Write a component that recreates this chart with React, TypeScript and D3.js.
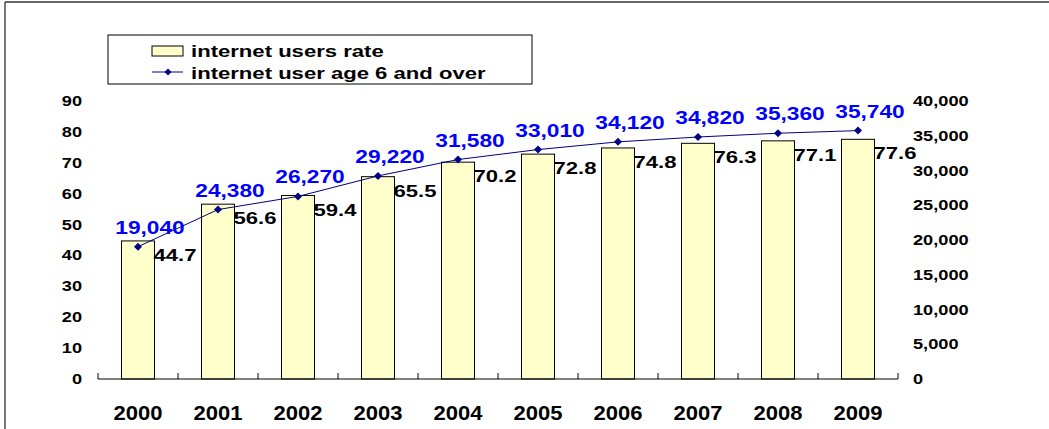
import React from "react";
import { scaleBand, scaleLinear, line, format } from "d3";

const years = ["2000", "2001", "2002", "2003", "2004", "2005", "2006", "2007", "2008", "2009"];
const usersRate = [44.7, 56.6, 59.4, 65.5, 70.2, 72.8, 74.8, 76.3, 77.1, 77.6];
const usersAge6 = [19040, 24380, 26270, 29220, 31580, 33010, 34120, 34820, 35360, 35740];
const leftTicks = [0, 10, 20, 30, 40, 50, 60, 70, 80, 90];
const rightTicks = [0, 5000, 10000, 15000, 20000, 25000, 30000, 35000, 40000];

const width = 1049;
const height = 429;
const font = "'Liberation Sans', Arial, sans-serif";
const stretch = 1.3;

const margin = { top: 101, right: 151, bottom: 50, left: 98 };

const App = () => {
  const innerBottom = height - margin.bottom;

  const x = scaleBand()
    .domain(years)
    .range([margin.left, width - margin.right])
    .padding(0);

  const yLeft = scaleLinear().domain([0, 90]).range([innerBottom, margin.top]);
  const yRight = scaleLinear().domain([0, 40000]).range([innerBottom, margin.top]);

  const barW = x.bandwidth() * 0.4125;
  const cx = (d) => x(d) + x.bandwidth() / 2;
  const comma = format(",");

  const pts = years.map((d, i) => [cx(d), yRight(usersAge6[i])]);
  const path = line()(pts);

  const diamond = (px, py, r = 4) =>
    `M${px},${py - r}L${px + r},${py}L${px},${py + r}L${px - r},${py}Z`;

  // stretched bold text, like the source image
  const T = ({ x: tx, y: ty, size, anchor = "start", fill = "#000", sx = stretch, children }) => (
    <text
      transform={`translate(${tx},${ty}) scale(${sx},1)`}
      textAnchor={anchor}
      fontSize={size}
      fontWeight="bold"
      fontFamily={font}
      fill={fill}
    >
      {children}
    </text>
  );

  const ticksX = [...years.map((d) => x(d)), x(years[years.length - 1]) + x.bandwidth()];

  return (
    <svg
      width={width}
      height={height}
      style={{ position: "absolute", left: 0, top: 0, display: "block", background: "#fff" }}
    >
      {/* frame */}
      <line x1={5} x2={width} y1={2} y2={2} stroke="#333" strokeWidth={1.3} />
      <line x1={5} x2={5} y1={2} y2={height} stroke="#333" strokeWidth={1.3} />

      {/* legend */}
      <rect x={108} y={35} width={424} height={49} fill="#fff" stroke="#000" />
      <rect x={152} y={46} width={31} height={10} fill="#FFFFCC" stroke="#000" />
      <T x={191} y={57} size={17}>internet users rate</T>
      <line x1={152} x2={183} y1={72} y2={72} stroke="#000080" />
      <path d={diamond(168, 72, 3.5)} fill="#000080" />
      <T x={191} y={79} size={17}>internet user age 6 and over</T>

      {/* bars */}
      {years.map((d, i) => (
        <rect
          key={d}
          x={cx(d) - barW / 2}
          y={yLeft(usersRate[i])}
          width={barW}
          height={innerBottom - yLeft(usersRate[i])}
          fill="#FFFFCC"
          stroke="#000"
          strokeWidth={1}
        />
      ))}

      {/* x axis */}
      <line x1={margin.left} x2={width - margin.right} y1={innerBottom} y2={innerBottom} stroke="#000" strokeWidth={1.2} />
      {ticksX.map((t, i) => (
        <line key={i} x1={t} x2={t} y1={innerBottom} y2={innerBottom - 6} stroke="#000" />
      ))}
      {years.map((d) => (
        <T key={d} x={cx(d)} y={420} size={20} sx={1.1} anchor="middle">
          {d}
        </T>
      ))}

      {/* left axis labels */}
      {leftTicks.map((t) => (
        <T key={t} x={82} y={yLeft(t) + 5} size={14} anchor="end">
          {t}
        </T>
      ))}

      {/* right axis labels */}
      {rightTicks.map((t) => (
        <T key={t} x={913} y={yRight(t) + 5} size={14}>
          {comma(t)}
        </T>
      ))}

      {/* rate labels */}
      {years.map((d, i) => (
        <T key={d} x={cx(d) + barW / 2 - 1} y={yLeft(usersRate[i]) + 20} size={17}>
          {usersRate[i].toFixed(1)}
        </T>
      ))}

      {/* line */}
      <path d={path} fill="none" stroke="#000080" strokeWidth={1} />
      {pts.map(([px, py], i) => (
        <path key={i} d={diamond(px, py)} fill="#000080" />
      ))}
      {years.map((d, i) => (
        <T key={d} x={cx(d) + 12} y={yRight(usersAge6[i]) - 13} size={17.5} anchor="middle" fill="#0000FF">
          {comma(usersAge6[i])}
        </T>
      ))}
    </svg>
  );
};

export default App;
